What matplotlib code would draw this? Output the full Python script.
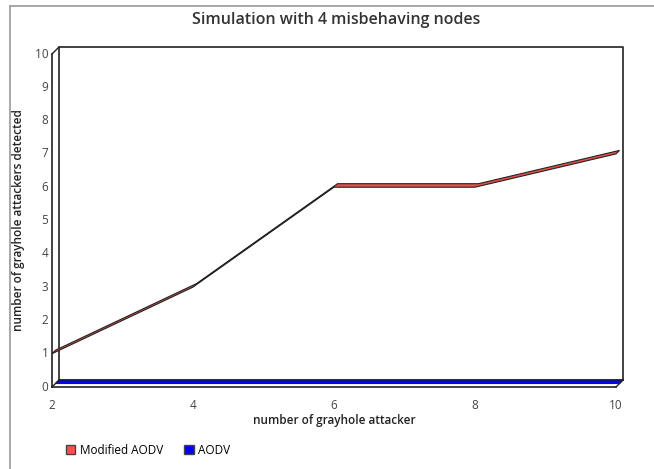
import numpy as np
import matplotlib
matplotlib.use('Agg')
import matplotlib.pyplot as plt
from matplotlib import transforms
from matplotlib.patches import Polygon, Patch
from matplotlib.lines import Line2D

attackers = [2, 4, 6, 8, 10]
modified_aodv = [1, 3, 6, 6, 7]
aodv = [0, 0, 0, 0, 0]
x_ticks = [2, 4, 6, 8, 10]
y_ticks = [0, 1, 2, 3, 4, 5, 6, 7, 8, 9, 10]

plt.rcParams['font.family'] = ['Open Sans', 'DejaVu Sans']

W, H = 654, 469
fig = plt.figure(figsize=(W / 100, H / 100), dpi=100)
ax = fig.add_axes([52 / W, (H - 387) / H, 564 / W, 333 / H])
ax.set_xlim(2, 10)
ax.set_ylim(0, 10)
ax.axis('off')

depth = 7  # pixels of 3d depth
def shifted(d):
    return transforms.offset_copy(ax.transData, fig, x=d, y=d, units='dots')

back = shifted(depth)
edge = '#222222'

# back wall
ax.plot([2, 2, 10, 10], [0, 10, 10, 0], color=edge, lw=1.2, transform=back, clip_on=False)
ax.plot([2, 10], [0, 0], color=edge, lw=1.2, transform=back, clip_on=False)
# front left axis + floor
ax.plot([2, 2], [0, 10], color=edge, lw=1.2, clip_on=False)
ax.plot([2, 10], [0, 0], color=edge, lw=1.2, clip_on=False)
for xx, yy in [(2, 10), (2, 0), (10, 0)]:
    p0 = ax.transData.transform((xx, yy))
    p1 = back.transform((xx, yy))
    fig.add_artist(Line2D([p0[0] / W, p1[0] / W], [p0[1] / H, p1[1] / H], color=edge, lw=1.0))

def ribbon(ys, d0, d1, color):
    t0 = shifted(d0)
    t1 = shifted(d1)
    front = t0.transform(np.column_stack([attackers, ys]))
    rear = t1.transform(np.column_stack([attackers, ys]))
    pts = np.vstack([front, rear[::-1]])
    poly = Polygon(pts, closed=True, facecolor=color, edgecolor=edge, lw=0.8,
                   transform=None, clip_on=False)
    fig.add_artist(poly)

ribbon(aodv, 3.5, depth, '#0000ff')
ribbon(modified_aodv, 0, 3.5, '#e8504c')

# tick labels
for v in y_ticks:
    ax.text(2, v, str(v) + ' ', ha='right', va='center', fontsize=8.5, color='#444444')
for v in x_ticks:
    ax.text(v, -0.35, str(v), ha='center', va='top', fontsize=8.5, color='#444444')

fig.text(334 / W, 1 - 420 / H, 'number of grayhole attacker', ha='center', va='center',
         fontsize=8.5, fontweight='semibold', color='#222222')
fig.text(19 / W, 1 - 220 / H, 'number of grayhole attackers detected', ha='center', va='center',
         rotation=90, fontsize=8.5, fontweight='semibold', color='#222222')
fig.text(336 / W, 1 - 20 / H, 'Simulation with 4 misbehaving nodes', ha='center', va='center',
         fontsize=11.5, fontweight='semibold', color='#333333')

# outer border
fig.add_artist(Line2D([10 / W, 1], [1 - 6 / H, 1 - 6 / H], color='#999999', lw=1.2))
fig.add_artist(Line2D([10 / W, 10 / W], [0, 1 - 6 / H], color='#999999', lw=1.2))

handles = [Patch(facecolor='#ff5050', edgecolor='#444444', label='Modified AODV'),
           Patch(facecolor='#0000ff', edgecolor='#444444', label='AODV')]
fig.legend(handles=handles, loc='center left', bbox_to_anchor=(55 / W, 1 - 450 / H), ncol=2,
           frameon=False, fontsize=8.5, handlelength=0.8, handleheight=0.8,
           handletextpad=0.4, columnspacing=1.8)

fig.savefig('out.png', dpi=100)
